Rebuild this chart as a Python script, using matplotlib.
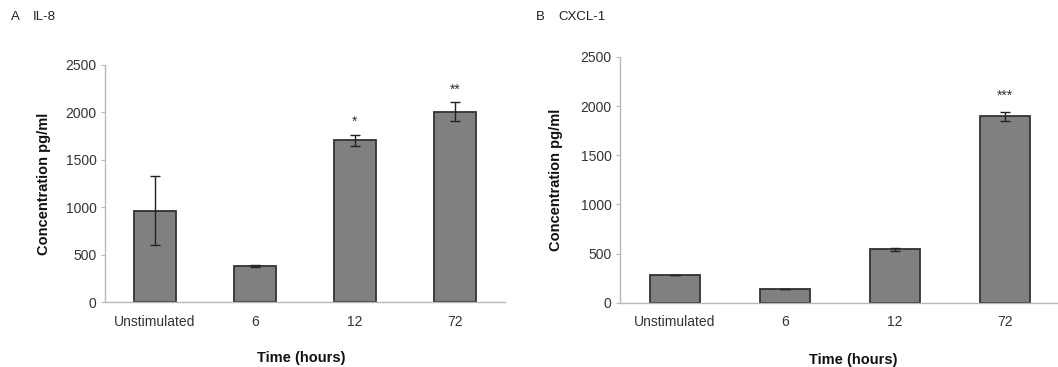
import matplotlib
matplotlib.use("Agg")
import matplotlib.pyplot as plt

plt.rcParams['font.family'] = ['Liberation Sans', 'DejaVu Sans']

categories = ["Unstimulated", "6", "12", "72"]

il8_values = [965, 383, 1705, 2005]
il8_errors = [365, 12, 60, 100]
il8_stars = ["", "", "*", "**"]

cxcl1_values = [278, 142, 546, 1897]
cxcl1_errors = [0, 0, 15, 44]
cxcl1_stars = ["", "", "", "***"]

yticks = [0, 500, 1000, 1500, 2000, 2500]

W, H = 1058, 367
fig = plt.figure(figsize=(W / 100, H / 100), dpi=100)

BAR_COLOR = "#808080"
EDGE_COLOR = "#333333"
SPINE_COLOR = "#b8b8b8"
TEXT_COLOR = "#333333"


def panel(rect, values, errors, stars, bar_width, star_offset,
          letter, name, letter_x, name_x, ylab_x, xlab_x):
    ax = fig.add_axes(rect)
    x = list(range(len(categories)))
    ax.bar(x, values, width=bar_width, color=BAR_COLOR, edgecolor=EDGE_COLOR,
           linewidth=1.3, zorder=2)
    ax.errorbar(x, values, yerr=errors, fmt="none", ecolor="#222222",
                elinewidth=1.0, capsize=3.5, capthick=1.0, zorder=3)
    for xi, v, e, s in zip(x, values, errors, stars):
        if s:
            ax.text(xi, v + e + star_offset, s, ha="center", va="bottom",
                    fontsize=10, color=TEXT_COLOR)
    ax.set_xlim(-0.5, len(categories) - 0.5)
    ax.set_ylim(0, 2500)
    ax.set_yticks(yticks)
    ax.set_yticklabels([str(t) for t in yticks])
    ax.set_xticks(x)
    ax.set_xticklabels(categories)
    for sp in ["top", "right"]:
        ax.spines[sp].set_visible(False)
    for sp in ["left", "bottom"]:
        ax.spines[sp].set_color(SPINE_COLOR)
        ax.spines[sp].set_linewidth(1.0)
    ax.tick_params(axis="y", length=3, color=SPINE_COLOR, labelsize=10,
                   labelcolor=TEXT_COLOR, pad=3)
    ax.tick_params(axis="x", length=0, labelsize=10, labelcolor=TEXT_COLOR, pad=9)
    ax.set_ylabel("Concentration pg/ml", fontsize=10.5, fontweight="bold",
                  color="#111111")
    ax.yaxis.set_label_coords(ylab_x, 0.5)
    ax.set_xlabel("Time (hours)", fontsize=10.5, fontweight="bold",
                  color="#111111")
    ax.xaxis.set_label_coords(xlab_x, -0.205)
    ax.xaxis.label.set_va("top")
    ty = 1 - 17 / H
    fig.text(letter_x / W, ty, letter, fontsize=9.5, color="#222222",
             ha="left", va="center")
    fig.text(name_x / W, ty, name, fontsize=9.5, color="#222222",
             ha="left", va="center")
    return ax


axA = panel([105 / W, 1 - 302 / H, 400 / W, 237 / H],
            il8_values, il8_errors, il8_stars, 0.42, 60,
            "A", "IL-8", 11, 33, -0.135, 0.49)
axB = panel([620 / W, 1 - 302.7 / H, 440 / W, 245.7 / H],
            cxcl1_values, cxcl1_errors, cxcl1_stars, 0.45, 90,
            "B", "CXCL-1", 536, 558, -0.13, 0.53)

fig.savefig("out.png", dpi=100)
